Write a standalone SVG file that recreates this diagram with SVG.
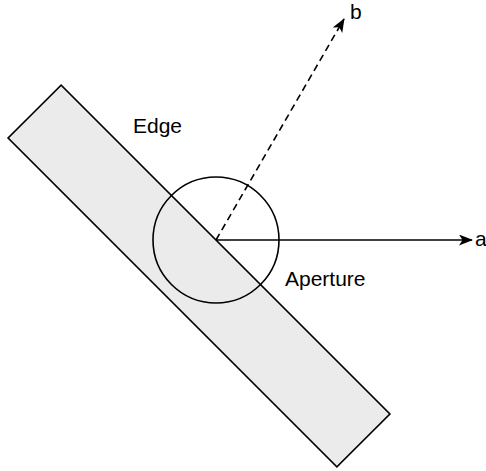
<svg xmlns="http://www.w3.org/2000/svg" width="486" height="471" viewBox="0 0 486 471">
<style>
.shape{stroke:#000;stroke-width:1.6}
.lbl{font-family:"Liberation Sans",Arial,sans-serif;font-size:21px;fill:#000}
.conn{fill:none;stroke:#000;stroke-width:1.6}
</style>
<defs>
<marker id="arr" viewBox="0 0 14 11" refX="13" refY="5.5" markerWidth="14" markerHeight="11" markerUnits="userSpaceOnUse" orient="auto">
<path d="M0,0 L14,5.5 L0,11 L3.5,5.5 Z" fill="#000"/>
</marker>
</defs>
<g id="edge">
<rect class="shape" x="-232.5" y="-37.5" width="465" height="75" fill="#ebebeb" transform="translate(199,276) rotate(45)"/>
</g>
<g id="aperture">
<circle class="shape" cx="216" cy="240" r="63" fill="none"/>
</g>
<g id="connectors">
<line class="conn" x1="216" y1="240" x2="472" y2="240" marker-end="url(#arr)"/>
<line class="conn" x1="216" y1="240" x2="344" y2="19" stroke-dasharray="7,4.5" marker-end="url(#arr)"/>
</g>
<g id="labels">
<text class="lbl" x="133" y="133">Edge</text>
<text class="lbl" x="285" y="286">Aperture</text>
<text class="lbl" x="350" y="19">b</text>
<text class="lbl" x="475" y="246">a</text>
</g>
</svg>
